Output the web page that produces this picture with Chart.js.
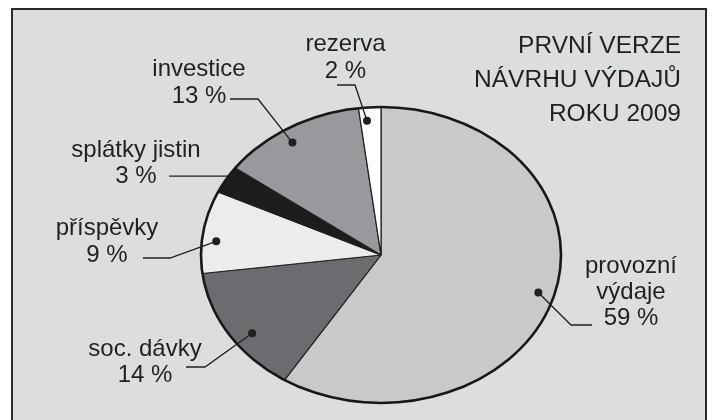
<!DOCTYPE html>
<html>
<head>
<meta charset="utf-8">
<script src="https://cdn.jsdelivr.net/npm/chart.js@4.4.1/dist/chart.umd.min.js"></script>
<style>
  html, body { margin: 0; padding: 0; background: #ffffff; }
  canvas { display: block; }
</style>
</head>
<body>
<canvas id="c" width="712" height="420"></canvas>
<script>
// ---- data ----
const categories = [['provozní', 'výdaje'], 'soc. dávky', 'příspěvky', 'splátky jistin', 'investice', 'rezerva'];
const shares = [59, 14, 9, 3, 13, 2];
const sliceColors = ['#c8c9cb', '#6b6c6f', '#ececec', '#1e1c1d', '#98999c', '#ffffff'];
const titleLines = ['PRVNÍ VERZE', 'NÁVRHU VÝDAJŮ', 'ROKU 2009'];

// ---- layout (label placement, not data) ----
const RX_SCALE = 180 / 148; // horizontal stretch of the pie into an ellipse
const labelLayout = [
  { cx: 631, base: 273, lh: 26, t: 0.50, rf: 0.91, elbow: [571, 325], end: [592, 325] },
  { cx: 145, base: 356, lh: 26, t: 0.42, rf: 0.89, elbow: [205, 367], end: [186, 367] },
  { cx: 107, base: 235, lh: 27, t: 0.40, rf: 0.92, elbow: [170, 258], end: [143, 258] },
  { cx: 136, base: 157, lh: 26, t: 0.65, rf: 1.00, horizontal: true, end: [169, 0] },
  { cx: 199, base: 76,  lh: 27, t: 0.45, rf: 0.905, elbow: [258, 99], end: [230, 99] },
  { cx: 345.5, base: 51, lh: 27, t: 0.32, rf: 0.91, elbow: [355, 85], end: [337, 85] }
];
const TEXT_COLOR = '#231f20';
const FONT = '24px "Liberation Sans", Arial, sans-serif';

const framePlugin = {
  id: 'frame',
  beforeDraw(chart) {
    const ctx = chart.ctx;
    ctx.save();
    ctx.fillStyle = '#dcdddf';
    ctx.fillRect(12, 9, 694, 420);
    ctx.strokeStyle = '#2a2a2a';
    ctx.lineWidth = 2;
    ctx.strokeRect(12, 9, 694, 430);
    ctx.restore();
  }
};

const ellipsePlugin = {
  id: 'ellipse',
  beforeDatasetsDraw(chart) {
    const arc = chart.getDatasetMeta(0).data[0];
    const ctx = chart.ctx;
    ctx.save();
    ctx.translate(arc.x, arc.y);
    ctx.scale(RX_SCALE, 1);
    ctx.translate(-arc.x, -arc.y);
  },
  afterDatasetsDraw(chart) {
    const ctx = chart.ctx;
    ctx.restore();
    const meta = chart.getDatasetMeta(0);
    const a0 = meta.data[0];
    const cx = a0.x, cy = a0.y, R = a0.outerRadius;
    // outer outline
    ctx.save();
    ctx.beginPath();
    ctx.ellipse(cx, cy, R * RX_SCALE, R, 0, 0, Math.PI * 2);
    ctx.strokeStyle = '#1a1718';
    ctx.lineWidth = 2.6;
    ctx.stroke();

    // labels with leader lines
    ctx.fillStyle = TEXT_COLOR;
    ctx.strokeStyle = TEXT_COLOR;
    ctx.font = FONT;
    ctx.textAlign = 'center';
    ctx.textBaseline = 'alphabetic';
    meta.data.forEach((arc, i) => {
      const L = labelLayout[i];
      const ang = arc.startAngle + (arc.endAngle - arc.startAngle) * L.t;
      const r = R * L.rf;
      const dx = cx + Math.cos(ang) * r * RX_SCALE;
      const dy = cy + Math.sin(ang) * r;
      // text
      const name = categories[i];
      const lines = (Array.isArray(name) ? name.slice() : [name]);
      lines.push(shares[i] + ' %');
      lines.forEach((s, k) => ctx.fillText(s, L.cx, L.base + k * L.lh));
      // leader
      ctx.lineWidth = 1.3;
      ctx.beginPath();
      if (L.horizontal) {
        ctx.moveTo(L.end[0], dy);
        ctx.lineTo(dx, dy);
      } else {
        ctx.moveTo(L.end[0], L.end[1]);
        ctx.lineTo(L.elbow[0], L.elbow[1]);
        ctx.lineTo(dx, dy);
      }
      ctx.stroke();
      if (!L.horizontal) {
        ctx.beginPath();
        ctx.arc(dx, dy, 4, 0, Math.PI * 2);
        ctx.fill();
      }
    });

    // title
    ctx.textAlign = 'right';
    ctx.font = '24.5px "Liberation Sans", Arial, sans-serif';
    titleLines.forEach((s, k) => ctx.fillText(s, 681, 53 + k * 34));
    ctx.restore();
  }
};

new Chart(document.getElementById('c'), {
  type: 'pie',
  data: {
    labels: categories,
    datasets: [{
      data: shares,
      backgroundColor: sliceColors,
      borderColor: '#231f20',
      borderWidth: 1,
      clip: false,
      hoverOffset: 0
    }]
  },
  options: {
    responsive: false,
    animation: false,
    events: [],
    radius: 148,
    layout: { padding: { left: 60, right: 10, top: 100, bottom: 10 } },
    plugins: {
      legend: { display: false },
      tooltip: { enabled: false },
      title: { display: false }
    }
  },
  plugins: [framePlugin, ellipsePlugin]
});
</script>
</body>
</html>
